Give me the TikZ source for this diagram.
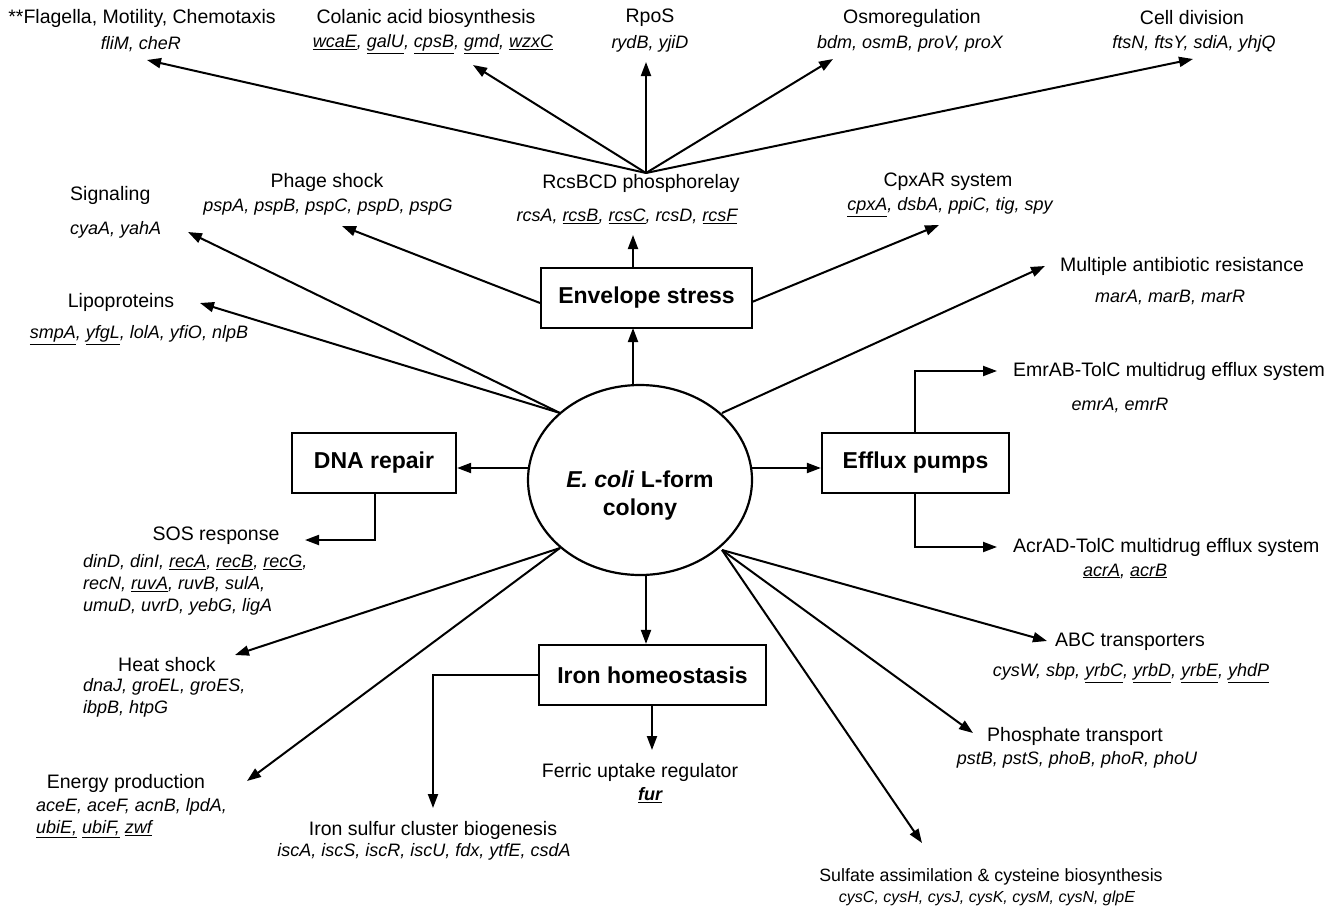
\documentclass[tikz,border=0pt]{standalone}
\usepackage{fontspec}
\setmainfont{Liberation Sans}
\usetikzlibrary{arrows.meta,shapes.geometric}
\begin{document}
\begin{tikzpicture}[x=1pt,y=-1pt,
  ttl/.style={font=\fontsize{19.5}{23}\selectfont, inner sep=0pt},
  gen/.style={font=\fontsize{18}{22}\selectfont\itshape, inner sep=0pt, align=left},
  box/.style={draw, line width=2.2pt, font=\fontsize{23}{27}\selectfont\bfseries, inner sep=0pt, minimum height=60pt},
  arr/.style={line width=2pt, -{Triangle[length=14pt,width=10pt]}},
  ln/.style={line width=2pt}]
\useasboundingbox (0,0) rectangle (1341,910);
\fill[white] (0,0) rectangle (1341,910);

% central ellipse
\node[draw, ellipse, line width=2.2pt, minimum width=224pt, minimum height=190pt, inner sep=0pt] (col) at (640,480) {};
\node[font=\fontsize{23}{28}\selectfont\bfseries, align=center, inner sep=0pt] (colt) at (640,496) {\textit{E. coli} L-form\\colony};

% boxes
\node[box, minimum width=211pt] (env) at (646.5,298) {Envelope stress};
\node[box, minimum width=164pt] (dna) at (374,463) {DNA repair};
\node[box, minimum width=187pt] (eff) at (915.5,463) {Efflux pumps};
\node[box, minimum width=227pt] (iron) at (652.5,675) {Iron homeostasis};

% top row labels
\node[ttl] (flagT) at (142,18) {**Flagella, Motility, Chemotaxis};
\node[gen] (flagG) at (141,44) {fliM, cheR};
\node[ttl] (colaT) at (426,18) {Colanic acid biosynthesis};
\node[gen] (colaG) at (433,44) {\underline{wcaE}, \underline{galU}, \underline{cpsB}, \underline{gmd}, \underline{wzxC}};
\node[ttl] (rposT) at (650,18) {RpoS};
\node[gen] (rposG) at (650,44) {rydB, yjiD};
\node[ttl] (osmoT) at (912,18) {Osmoregulation};
\node[gen] (osmoG) at (910,44) {bdm, osmB, proV, proX};
\node[ttl] (cellT) at (1192,18) {Cell division};
\node[gen] (cellG) at (1194,44) {ftsN, ftsY, sdiA, yhjQ};

% envelope-related labels
\node[ttl] (rcsT) at (641,183) {RcsBCD phosphorelay};
\node[gen] (rcsG) at (627,216) {rcsA, \underline{rcsB}, \underline{rcsC}, rcsD, \underline{rcsF}};
\node[ttl] (phT) at (327,182) {Phage shock};
\node[gen] (phG) at (328,207) {pspA, pspB, pspC, pspD, pspG};
\node[ttl] (cpxT) at (948,182) {CpxAR system};
\node[gen] (cpxG) at (950,207) {\underline{cpxA}, dsbA, ppiC, tig, spy};

% left upper
\node[ttl, anchor=west] (sigT) at (70,195) {Signaling};
\node[gen, anchor=west] (sigG) at (70,230) {cyaA, yahA};
\node[ttl] (lipT) at (121,302) {Lipoproteins};
\node[gen] (lipG) at (139,335) {\underline{smpA}, \underline{yfgL}, lolA, yfiO, nlpB};

% right upper
\node[ttl] (marT) at (1182,266) {Multiple antibiotic resistance};
\node[gen] (marG) at (1170,297) {marA, marB, marR};
\node[ttl, anchor=west] (emrT) at (1013,371) {EmrAB-TolC multidrug efflux system};
\node[gen] (emrG) at (1120,405) {emrA, emrR};
\node[ttl, anchor=west] (acrT) at (1013,547) {AcrAD-TolC multidrug efflux system};
\node[gen] (acrG) at (1125,571) {\underline{acrA}, \underline{acrB}};

% left lower
\node[ttl] (sosT) at (216,536) {SOS response};
\node[gen, anchor=west] (sosG) at (83,585) {dinD, dinI, \underline{recA}, \underline{recB}, \underline{recG},\\recN, \underline{ruvA}, ruvB, sulA,\\umuD, uvrD, yebG, ligA};
\node[ttl] (heatT) at (167,665) {Heat shock};
\node[gen, anchor=west] (heatG) at (83,698) {dnaJ, groEL, groES,\\ibpB, htpG};
\node[ttl] (enT) at (126,783) {Energy production};
\node[gen, anchor=west] (enG) at (36,818) {aceE, aceF, acnB, lpdA,\\\underline{ubiE,} \underline{ubiF,} \underline{zwf}};

% bottom
\node[ttl] (ferT) at (640,772) {Ferric uptake regulator};
\node[gen, font=\fontsize{18}{22}\selectfont\itshape\bfseries] (ferG) at (650,795) {\underline{fur}};
\node[ttl] (isT) at (433,830) {Iron sulfur cluster biogenesis};
\node[gen] (isG) at (424,852) {iscA, iscS, iscR, iscU, fdx, ytfE, csdA};

% right lower
\node[ttl] (abcT) at (1130,642) {ABC transporters};
\node[gen] (abcG) at (1131,673) {cysW, sbp, \underline{yrbC}, \underline{yrbD}, \underline{yrbE}, \underline{yhdP}};
\node[ttl] (phoT) at (1075,736) {Phosphate transport};
\node[gen] (phoG) at (1077,760) {pstB, pstS, phoB, phoR, phoU};
\node[ttl, font=\fontsize{17.8}{21}\selectfont] (sulT) at (991,877) {Sulfate assimilation \& cysteine biosynthesis};
\node[gen, font=\fontsize{16}{20}\selectfont\itshape] (sulG) at (987,898) {cysC, cysH, cysJ, cysK, cysM, cysN, glpE};

% coordinates
\coordinate (eUL) at (560,413);
\coordinate (eUR) at (722,413);
\coordinate (eLL) at (560,548);
\coordinate (eLR) at (722,550);
\coordinate (eT) at (633,386);
\coordinate (eB) at (646,575);
\coordinate (eL) at (528,468);
\coordinate (eR) at (752,468);
\coordinate (fan) at (646,173);
\coordinate (envB) at (633,328);
\coordinate (envT) at (633,268);
\coordinate (envL) at (540,303);
\coordinate (envR) at (752,302);

\coordinate (tFlag) at (147,60);
\coordinate (tCola) at (473,65);
\coordinate (tRpos) at (646,62);
\coordinate (tOsmo) at (833,59);
\coordinate (tCell) at (1193,59);
\coordinate (tRcs) at (633,235);
\coordinate (tPh) at (342,226);
\coordinate (tCpx) at (939,225);
\coordinate (tSig) at (188,232);
\coordinate (tLip) at (200,303);
\coordinate (tMar) at (1045,266);
\coordinate (tHeat) at (235,655);
\coordinate (tEn) at (247,781);
\coordinate (tAbc) at (1047,641);
\coordinate (tPho) at (973,733);
\coordinate (tSul) at (922,843);

% connectors
\draw[arr] (fan) -- (tFlag);
\draw[arr] (fan) -- (tCola);
\draw[arr] (fan) -- (tRpos);
\draw[arr] (fan) -- (tOsmo);
\draw[arr] (fan) -- (tCell);
\draw[arr] (eT) -- (envB);
\draw[arr] (envT) -- (tRcs);
\draw[arr] (envL) -- (tPh);
\draw[arr] (envR) -- (tCpx);
\draw[arr] (eUL) -- (tSig);
\draw[arr] (eUL) -- (tLip);
\draw[arr] (eUR) -- (tMar);
\draw[arr] (eL) -- (dna.east |- eL);
\draw[arr] (eR) -- (eff.west |- eR);
\draw[arr] (dna.south -| 375,0) -- (375,540) -- (305,540);
\draw[arr] (eff.north -| 915,0) -- (915,371) -- (997,371);
\draw[arr] (eff.south -| 915,0) -- (915,547) -- (997,547);
\draw[arr] (eLL) -- (tHeat);
\draw[arr] (eLL) -- (tEn);
\draw[arr] (eB) -- (iron.north -| eB);
\draw[arr] (iron.south -| 652,0) -- (652,750);
\draw[arr] (iron.west) -- (433,675) -- (433,808);
\draw[arr] (eLR) -- (tAbc);
\draw[arr] (eLR) -- (tPho);
\draw[arr] (eLR) -- (tSul);
\end{tikzpicture}
\end{document}
